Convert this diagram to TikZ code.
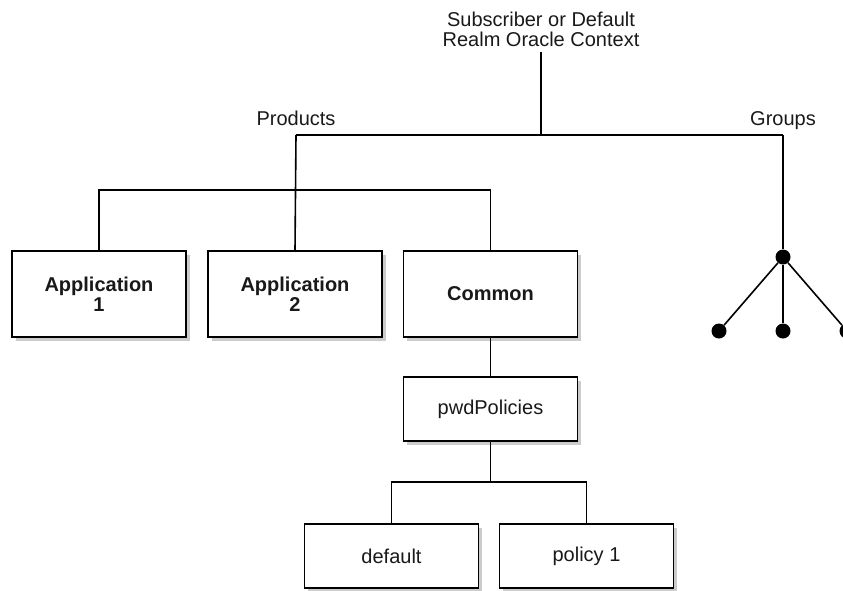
\documentclass[tikz,border=0pt]{standalone}
\usepackage{fontspec}
\setmainfont{Liberation Sans}
\usetikzlibrary{shadows}
\begin{document}
\begin{tikzpicture}[x=1pt,y=-1pt,
  txt/.style={font=\fontsize{20}{20.5}\selectfont, text=black!90},
  box/.style={txt, draw, line width=1.9pt, minimum width=174pt, fill=white,
    drop shadow={shadow xshift=3.5pt, shadow yshift=-3.5pt, fill=black!20, opacity=1},
    inner sep=2pt, align=center},
  bigbox/.style={box, minimum height=86pt, font=\fontsize{20}{20.5}\selectfont\bfseries},
  smallbox/.style={box, minimum height=64pt},
  conn/.style={line width=1.6pt},
  dot/.style={circle, fill=black, inner sep=0pt, minimum size=15pt}]
\useasboundingbox (0,0) rectangle (843,590);

\node[txt, anchor=south, inner sep=0pt, align=center] (root) at (541,47) {Subscriber or Default\\Realm Oracle Context};
\node[txt, anchor=base] (products) at (296,125) {Products};
\node[txt, anchor=base] (groups) at (783,125) {Groups};

\coordinate (jr) at (541,135);
\coordinate (jp) at (296,135);
\coordinate (jg) at (783,135);
\coordinate (jd) at (490.5,482);

\node[bigbox] (app1) at (99,294) {Application\\1};
\node[bigbox] (app2) at (295,294) {Application\\2};
\node[bigbox] (common) at (490.5,294) {Common};
\node[smallbox] (pwd) at (490.5,409) {pwdPolicies};
\node[smallbox] (default) at (391.5,556) {default};
\node[smallbox] (policy) at (586.5,556) {policy 1};

\node[dot] (g) at (783,257) {};
\node[dot] (g1) at (719,331) {};
\node[dot] (g2) at (783,331) {};
\node[dot] (g3) at (847,331) {};

\draw[conn] ([yshift=-5pt]root.south) -- (jr);
\draw[conn] (jp) -- (jg);
\draw[conn] (jg) -- (g);
\draw[conn] (jp) -- (app2.north);
\draw[conn] (app1.north) -- ++(0,-60) -| (common.north);
\draw[conn] (common.south) -- (pwd.north);
\draw[conn] (pwd.south) -- (jd);
\draw[conn] (default.north) |- (jd) -| (policy.north);
\draw[conn] (g) -- (g1);
\draw[conn] (g) -- (g2);
\draw[conn] (g) -- (g3);
\end{tikzpicture}
\end{document}
